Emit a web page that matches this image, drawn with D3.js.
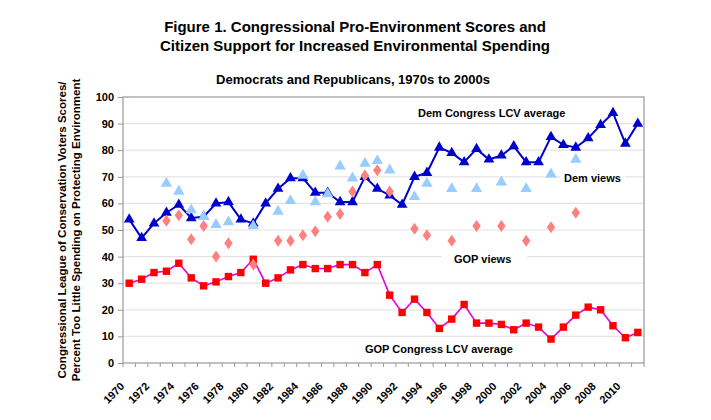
<!DOCTYPE html>
<html><head><meta charset="utf-8">
<script src="https://cdn.jsdelivr.net/npm/d3@7/dist/d3.min.js"></script>
<style>body{margin:0;background:#fff}svg{display:block}text{font-family:"Liberation Sans",Arial,sans-serif;font-weight:bold;fill:#000}</style>
</head><body><svg id="c" width="711" height="420"></svg>
<script>
const years = [1970,1971,1972,1973,1974,1975,1976,1977,1978,1979,1980,1981,1982,1983,1984,1985,1986,1987,1988,1989,1990,1991,1992,1993,1994,1995,1996,1997,1998,1999,2000,2001,2002,2003,2004,2005,2006,2007,2008,2009,2010,2011];
const demCongress = [54,47,52.5,56.5,59.5,54.5,55,60,60.5,54,52.5,60,65.5,69.5,69.5,64,64,60.5,60.5,70,65.5,63,59.5,70,71.5,81,79,75.5,80.5,76.5,78,81.5,75.5,75.5,85,82,81,84.5,89.5,94,82.5,90];
const gopCongress = [30,31.5,34,34.5,37.5,32,29,30.5,32.5,34,39,30,32,35,37,35.5,35.5,37,37,34,37,25.5,19,24,19,13,16.5,22,15,15,14.5,12.5,15,13.5,9,13.5,18,21,20,14,9.5,11.5];
const viewYears = [1973,1974,1975,1976,1977,1978,1980,1982,1983,1984,1985,1986,1987,1988,1989,1990,1991,1993,1994,1996,1998,2000,2002,2004,2006];
const demViews = [67.5,64.5,57.5,55,52,53,51.5,57,61,70.5,60.5,63.5,74,69.5,75,76,72.5,62.5,67.5,65.5,65.5,68,65.5,71,76.5];
const gopViews = [53.5,55.5,46.5,51.5,40,45,37,46,46,48,49.5,55,56,64.5,70.5,72.5,64.5,50.5,48,46,51.5,51.5,46,51,56.5];
const yTicks = [0,10,20,30,40,50,60,70,80,90,100];
const xLabelYears = [1970,1972,1974,1976,1978,1980,1982,1984,1986,1988,1990,1992,1994,1996,1998,2000,2002,2004,2006,2008,2010];
const titleLines = ["Figure 1. Congressional Pro-Environment Scores and","Citizen Support for Increased Environmental Spending"];
const subtitle = "Democrats and Republicans, 1970s to 2000s";
const yTitleLines = ["Congressional League of Conservation Voters Scores/","Percent Too Little Spending on Protecting Environment"];

const svg = d3.select("#c");
const L=123,R=644,T=97,B=363;
const x = d3.scaleBand().domain(years).range([L,R]).padding(0);
const cx = d => x(d)+x.bandwidth()/2;
const y = d3.scaleLinear().domain([0,100]).range([B,T]);

// titles
svg.selectAll(".title").data(titleLines).join("text")
  .attr("x",355).attr("y",(d,i)=>32+i*19).attr("text-anchor","middle").style("font-size","15px").text(d=>d);
svg.append("text").attr("x",353).attr("y",84).attr("text-anchor","middle").style("font-size","13px").text(subtitle);

// grid
svg.append("g").selectAll("line").data(yTicks.filter(t=>t>0&&t<100)).join("line")
  .attr("x1",L).attr("x2",R).attr("y1",d=>y(d)).attr("y2",d=>y(d)).attr("stroke","#e4e4e4").attr("stroke-width",1.2);

// y axis
const ya = svg.append("g").attr("transform",`translate(${L},0)`).call(d3.axisLeft(y).tickValues(yTicks).tickSize(5).tickPadding(4));
ya.select(".domain").remove();
ya.selectAll("line").attr("stroke","#999");
ya.selectAll("text").style("font-size","11px").style("font-family","Liberation Sans, Arial, sans-serif").style("font-weight","bold").attr("fill","#000");

// x ticks at boundaries
const bounds = years.map(d=>x(d)).concat([R]);
svg.append("g").selectAll("line").data(bounds).join("line")
  .attr("x1",d=>d).attr("x2",d=>d).attr("y1",B).attr("y2",B+4).attr("stroke","#999");
svg.append("g").selectAll("text").data(xLabelYears).join("text")
  .attr("transform",d=>`translate(${cx(d)-4},${B+24}) rotate(-45)`)
  .attr("text-anchor","end").style("font-size","11px").text(d=>d);

// plot border
svg.append("rect").attr("x",L).attr("y",T).attr("width",R-L).attr("height",B-T).attr("fill","none").attr("stroke","#999").attr("stroke-width",1.2);

// y title
const yt = svg.append("g").attr("transform","translate(0,230) rotate(-90)");
yt.selectAll("text").data(yTitleLines).join("text").attr("x",0).attr("y",(d,i)=>66+i*13.5).attr("text-anchor","middle").style("font-size","11.5px").text(d=>d);

// labels with white boxes
const labels = [
  {t:"Dem Congress LCV average", x:418, y:117, pl:4, pr:11},
  {t:"Dem views", x:564, y:182, pl:4, pr:4},
  {t:"GOP views", x:454, y:263, pl:12, pr:16},
  {t:"GOP Congress LCV average", x:365, y:353, pl:4, pr:4}
];
labels.forEach(l=>{
  const g = svg.append("g");
  const r = g.append("rect").attr("fill","#fff");
  const tx = g.append("text").attr("x",l.x).attr("y",l.y).style("font-size","11px").text(l.t);
  const bb = tx.node().getBBox();
  r.attr("x",bb.x-l.pl).attr("y",bb.y-5).attr("width",bb.width+l.pl+l.pr).attr("height",bb.height+9);
});

const line = d3.line().x(d=>cx(d[0])).y(d=>y(d[1]));
const demPts = years.map((d,i)=>[d,demCongress[i]]);
const gopPts = years.map((d,i)=>[d,gopCongress[i]]);

svg.append("path").datum(demPts).attr("d",line).attr("fill","none").attr("stroke","#0000cc").attr("stroke-width",2);
svg.append("g").selectAll("path").data(demPts).join("path")
  .attr("d",d3.symbol(d3.symbolTriangle,50)).attr("transform",d=>`translate(${cx(d[0])},${y(d[1])})`).attr("fill","#0000cc");

svg.append("path").datum(gopPts).attr("d",line).attr("fill","none").attr("stroke","#e000e0").attr("stroke-width",1.6);
svg.append("g").selectAll("rect").data(gopPts).join("rect")
  .attr("x",d=>cx(d[0])-3.7).attr("y",d=>y(d[1])-3.7).attr("width",7.4).attr("height",7.4).attr("fill","#ff0000");

svg.append("g").selectAll("path").data(viewYears.map((d,i)=>[d,demViews[i]])).join("path")
  .attr("d",d3.symbol(d3.symbolTriangle,56)).attr("transform",d=>`translate(${cx(d[0])},${y(d[1])})`).attr("fill","#99ccff");
svg.append("g").selectAll("path").data(viewYears.map((d,i)=>[d,gopViews[i]])).join("path")
  .attr("d",d3.symbol(d3.symbolDiamond,46)).attr("transform",d=>`translate(${cx(d[0])},${y(d[1])}) scale(1.15,0.95)`).attr("fill","#ff8080");
</script></body></html>
